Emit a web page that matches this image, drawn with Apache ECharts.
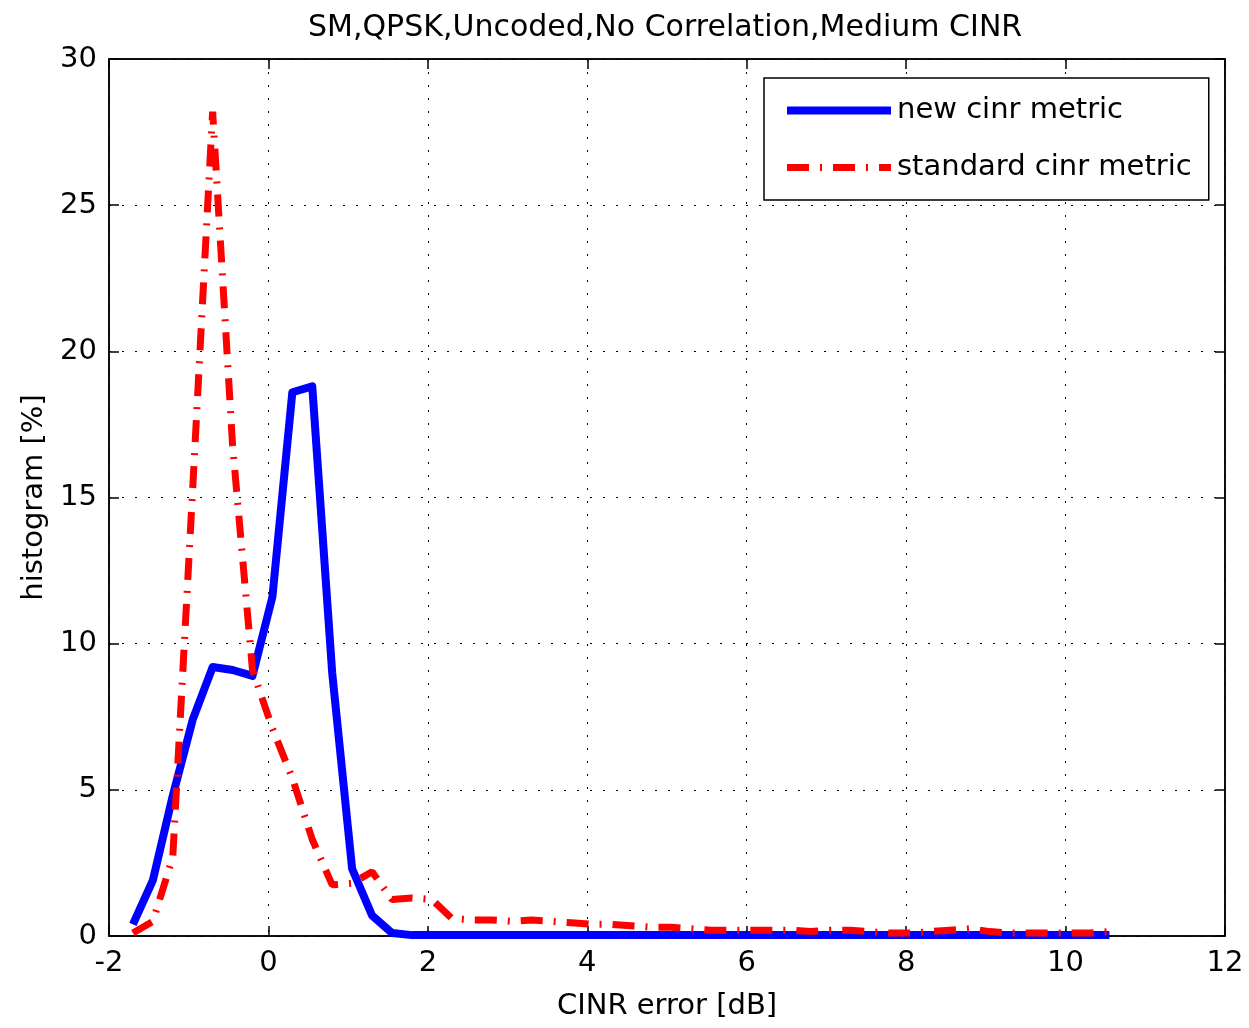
<!DOCTYPE html>
<html>
<head>
<meta charset="utf-8">
<title>CINR error histogram</title>
<script src="https://cdn.jsdelivr.net/npm/echarts@6/dist/echarts.min.js"></script>
<style>
  html, body { margin: 0; padding: 0; background: #fff; }
  #chart { width: 1249px; height: 1028px; }
</style>
</head>
<body>
<div id="chart"></div>
<script>
// histogram bin centres [dB]
const binX = [-1.7, -1.45, -1.2, -0.95, -0.7, -0.45, -0.2, 0.05, 0.3, 0.55,
  0.8, 1.05, 1.3, 1.55, 1.8, 2.05, 2.3, 2.55, 2.8, 3.05,
  3.3, 3.55, 3.8, 4.05, 4.3, 4.55, 4.8, 5.05, 5.3, 5.55,
  5.8, 6.05, 6.3, 6.55, 6.8, 7.05, 7.3, 7.55, 7.8, 8.05,
  8.3, 8.55, 8.8, 9.05, 9.3, 9.55, 9.8, 10.05, 10.3, 10.55]

// new cinr metric [%]
const newMetric = [0.4, 1.9, 4.8, 7.4, 9.2, 9.1, 8.9, 11.6, 18.6, 18.8,
  9.0, 2.3, 0.7, 0.1, 0.03, 0.03, 0.03, 0.03, 0.03, 0.03,
  0.03, 0.03, 0.03, 0.03, 0.03, 0.03, 0.03, 0.03, 0.03, 0.03,
  0.03, 0.03, 0.03, 0.03, 0.03, 0.03, 0.03, 0.03, 0.03, 0.03,
  0.03, 0.03, 0.03, 0.03, 0.03, 0.03, 0.03, 0.03, 0.03, 0.03]

// standard cinr metric [%]
const stdMetric = [0.1, 0.5, 2.7, 15.3, 28.2, 16.8, 9.1, 7.1, 5.4, 3.3,
  1.75, 1.8, 2.2, 1.25, 1.3, 1.25, 0.6, 0.55, 0.55, 0.5,
  0.55, 0.5, 0.45, 0.4, 0.4, 0.35, 0.3, 0.3, 0.25, 0.2,
  0.2, 0.2, 0.2, 0.2, 0.15, 0.2, 0.2, 0.15, 0.1, 0.1,
  0.15, 0.2, 0.25, 0.15, 0.1, 0.1, 0.1, 0.1, 0.1, 0.15]

const seriesNames = ['new cinr metric', 'standard cinr metric']

const font = "'DejaVu Sans', Verdana, sans-serif"

function pairs (ys) {
  return binX.map((x, i) => [x, ys[i]])
}

const dotted = { color: '#000', width: 1, type: [2, 11] }
const blackLine = { color: '#000', width: 1.5 }

const chart = echarts.init(document.getElementById('chart'))
chart.setOption({
  backgroundColor: '#fff',
  animation: false,
  title: {
    text: 'SM,QPSK,Uncoded,No Correlation,Medium CINR',
    left: 303,
    top: 8,
    textStyle: { fontFamily: font, fontSize: 30, fontWeight: 'normal', color: '#000' }
  },
  legend: {
    data: seriesNames,
    orient: 'vertical',
    left: 764,
    top: 78,
    padding: [18, 17, 18, 19],
    itemWidth: 104,
    itemHeight: 20,
    itemGap: 28,
    borderColor: '#000',
    borderWidth: 1.5,
    backgroundColor: '#fff',
    itemStyle: { opacity: 0, borderWidth: 0 },
    lineStyle: { width: 'inherit', type: 'inherit' },
    textStyle: { fontFamily: font, fontSize: 29, color: '#000', lineHeight: 20, padding: [0, 0, 0, 1] }
  },
  grid: {
    left: 109,
    top: 59,
    width: 1116,
    height: 877,
    show: true,
    borderColor: '#000',
    borderWidth: 1.5
  },
  xAxis: [{
    type: 'value',
    min: -2,
    max: 12,
    interval: 2,
    name: 'CINR error [dB]',
    nameLocation: 'middle',
    nameGap: 56,
    nameTextStyle: { fontFamily: font, fontSize: 29, color: '#000' },
    axisLine: { show: true, onZero: false, lineStyle: blackLine },
    axisTick: { show: true, inside: true, length: 10, lineStyle: blackLine },
    axisLabel: { fontFamily: font, fontSize: 29, color: '#000', margin: 13 },
    splitLine: { show: true, lineStyle: dotted }
  }, {
    type: 'value',
    position: 'top',
    min: -2,
    max: 12,
    interval: 2,
    axisLine: { show: true, onZero: false, lineStyle: blackLine },
    axisTick: { show: true, inside: true, length: 10, lineStyle: blackLine },
    axisLabel: { show: false },
    splitLine: { show: false }
  }],
  yAxis: [{
    type: 'value',
    min: 0,
    max: 30,
    interval: 5,
    name: 'histogram [%]',
    nameLocation: 'middle',
    nameRotate: 90,
    nameGap: 60,
    nameTextStyle: { fontFamily: font, fontSize: 29, color: '#000' },
    axisLine: { show: true, onZero: false, lineStyle: blackLine },
    axisTick: { show: true, inside: true, length: 10, lineStyle: blackLine },
    axisLabel: { fontFamily: font, fontSize: 29, color: '#000', margin: 12 },
    splitLine: { show: true, lineStyle: dotted }
  }, {
    type: 'value',
    position: 'right',
    min: 0,
    max: 30,
    interval: 5,
    axisLine: { show: true, onZero: false, lineStyle: blackLine },
    axisTick: { show: true, inside: true, length: 10, lineStyle: blackLine },
    axisLabel: { show: false },
    splitLine: { show: false }
  }],
  series: [{
    name: seriesNames[0],
    type: 'line',
    data: pairs(newMetric),
    symbol: 'none',
    color: '#0000ff',
    lineStyle: { color: '#0000ff', width: 8, join: 'round' }
  }, {
    name: seriesNames[1],
    type: 'line',
    data: pairs(stdMetric),
    symbol: 'none',
    color: '#ff0000',
    lineStyle: { color: '#ff0000', width: 7, type: [22, 11, 2, 11] }
  }]
})
</script>
</body>
</html>
